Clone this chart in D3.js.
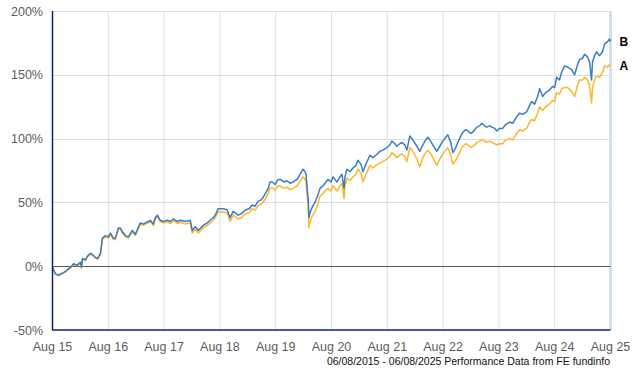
<!DOCTYPE html>
<meta charset="utf-8">
<head>
  <style>
    body { margin: 0; background: #fff; }
    svg text { font-family: "Liberation Sans", Arial, sans-serif; }
  </style>
  <script src="https://cdn.jsdelivr.net/npm/d3@7"></script>
</head>
<body>
<script>
  // years since 06/08/2015
  const yrs = [0, .054, .107, .143, .197, .233, .286, .322, .376, .411, .447, .501, .519, .537, .590, .626, .680, .716, .769, .805,
    .859, .894, .948, 1.002, 1.038, 1.091, 1.127, 1.181, 1.216, 1.252, 1.306, 1.360, 1.431, 1.485, 1.574, 1.628, 1.664, 1.717, 1.753, 1.807,
    1.843, 1.878, 1.932, 1.986, 2.057, 2.111, 2.165, 2.236, 2.290, 2.379, 2.469, 2.504, 2.558, 2.612, 2.701, 2.773, 2.826, 2.880, 2.916, 2.970,
    3.059, 3.131, 3.184, 3.238, 3.327, 3.381, 3.453, 3.524, 3.578, 3.631, 3.685, 3.739, 3.775, 3.828, 3.864, 3.900, 3.936, 3.989, 4.043, 4.079,
    4.150, 4.204, 4.258, 4.311, 4.383, 4.436, 4.490, 4.526, 4.544, 4.562, 4.580, 4.597, 4.615, 4.651, 4.705, 4.758, 4.794, 4.848, 4.884, 4.937,
    4.991, 5.027, 5.098, 5.152, 5.188, 5.224, 5.242, 5.277, 5.331, 5.385, 5.438, 5.474, 5.528, 5.564, 5.617, 5.689, 5.743, 5.796, 5.868, 5.921,
    5.993, 6.047, 6.082, 6.136, 6.172, 6.225, 6.261, 6.315, 6.351, 6.404, 6.458, 6.530, 6.583, 6.637, 6.673, 6.726, 6.762, 6.816, 6.887, 6.941,
    6.995, 7.048, 7.084, 7.138, 7.174, 7.227, 7.263, 7.317, 7.352, 7.406, 7.442, 7.496, 7.531, 7.567, 7.603, 7.656, 7.692, 7.746, 7.782, 7.835,
    7.871, 7.925, 7.961, 8.014, 8.068, 8.121, 8.193, 8.247, 8.318, 8.372, 8.425, 8.497, 8.551, 8.587, 8.640, 8.694, 8.730, 8.784, 8.837, 8.873,
    8.927, 8.962, 8.998, 9.034, 9.088, 9.123, 9.177, 9.231, 9.302, 9.356, 9.410, 9.445, 9.499, 9.535, 9.589, 9.624, 9.660, 9.678, 9.714, 9.750,
    9.803, 9.857, 9.893, 9.946, 9.982, 10.000];

  const seriesB = [-1, -6, -7, -6, -5, -4, -2, -1, 2, 1, 1, 3, -1, 6, 5, 8, 10, 9, 7, 6,
    10, 22, 24, 23, 26, 22, 22, 30, 30, 27, 24, 23, 28, 25, 34, 33, 34, 35, 36, 33,
    38, 40, 36, 35, 36, 35, 37, 35, 36, 35, 36, 28, 31, 28, 32, 34, 36, 38, 40, 45,
    45, 44, 38, 43, 40, 41, 44, 45, 48, 47, 51, 52, 54, 58, 61, 66, 66, 64, 68, 68,
    66, 67, 65, 66, 68, 72, 76, 74, 72, 62, 54, 38, 42, 46, 50, 56, 61, 63, 65, 68,
    66, 70, 66, 70, 72, 61, 70, 76, 74, 77, 79, 83, 80, 74, 80, 87, 85, 87, 90, 91,
    93, 95, 98, 96, 94, 96, 97, 95, 91, 102, 99, 94, 90, 95, 98, 101, 99, 95, 90, 94,
    98, 101, 103, 97, 89, 93, 97, 102, 105, 107, 106, 104, 105, 107, 109, 110, 112, 110, 109, 110,
    109, 108, 106, 108, 108, 111, 113, 112, 117, 120, 119, 121, 126, 129, 127, 133, 139, 133, 136, 137,
    139, 141, 140, 148, 146, 152, 157, 156, 154, 150, 158, 162, 163, 166, 164, 160, 146, 160, 165, 168,
    165, 168, 174, 176, 178, 176];

  const seriesA = [-1, -6, -7.5, -6.5, -5.5, -4.5, -2.5, -1.5, 1.5, .5, .5, 2.5, -1.5, 5.5, 4.5, 7.5, 9.5, 8.5, 6.5, 5.5,
    9, 21, 23, 22, 25, 21, 21, 29, 29, 26, 23, 22, 27, 24, 33, 32, 33, 34, 35, 32,
    37, 39, 35, 34, 34.5, 33.5, 35.5, 33.5, 34.5, 33, 34, 26, 29, 26, 30, 32, 34, 36, 38, 42.5,
    42.5, 41.5, 35, 40, 37, 38, 41, 42, 45, 44, 47.5, 48.5, 50, 54, 57, 61.5, 61.5, 59.5, 63, 63,
    61, 62, 60, 61, 63, 66.5, 70, 68, 66, 56, 48, 30, 35, 39, 43, 49, 55, 57, 59, 61,
    59, 63, 59, 63, 65, 53, 63, 69, 67, 70, 72, 76, 73, 66, 72, 79, 77, 79, 81, 82,
    84, 86, 89, 87, 85, 87, 88, 86, 82, 93, 90, 84, 78, 85, 88, 91, 89, 85, 79, 84,
    88, 91, 93, 87, 80, 83, 86, 91, 94, 96, 95, 93, 94, 95, 97, 98, 99, 98, 97, 98,
    97, 96, 95, 96, 96, 99, 100, 99, 104, 107, 106, 108, 113, 115, 114, 120, 125, 122, 125, 126,
    128, 130, 129, 136, 135, 139, 140, 140, 137, 133, 142, 146, 146, 148, 146, 142, 128, 140, 146, 149,
    148, 152, 157, 156, 158, 157];

  const yTicks = [-50, 0, 50, 100, 150, 200];
  const xTicks = [0, 1, 2, 3, 4, 5, 6, 7, 8, 9, 10];
  const xTickLabels = ["Aug 15", "Aug 16", "Aug 17", "Aug 18", "Aug 19", "Aug 20", "Aug 21", "Aug 22", "Aug 23", "Aug 24", "Aug 25"];
  const seriesNames = ["A", "B"];
  const footer = "06/08/2015 - 06/08/2025 Performance Data from FE fundinfo";

  const W = 640, H = 370;
  const pLeft = 52.5, pRight = 610.5, pTop = 11, pBottom = 330;

  const svg = d3.select("body").append("svg")
    .attr("width", W)
    .attr("height", H);

  const x = d3.scaleLinear().domain([0, 10]).range([pLeft, pRight]);
  const y = d3.scaleLinear().domain([-50, 200]).range([pBottom, pTop]);

  // grid
  svg.append("g")
    .selectAll("line").data(yTicks.filter(d => d !== 0 && d !== -50)).enter().append("line")
      .attr("x1", pLeft).attr("x2", pRight)
      .attr("y1", d => Math.round(y(d)) + 0.5).attr("y2", d => Math.round(y(d)) + 0.5)
      .attr("stroke", "#d4e0ea");
  svg.append("g")
    .selectAll("line").data(xTicks.slice(1)).enter().append("line")
      .attr("x1", d => x(d)).attr("x2", d => x(d))
      .attr("y1", pTop).attr("y2", pBottom)
      .attr("stroke", "#d4e0ea")
      .attr("stroke-width", (d, i) => i === xTicks.length - 2 ? 3 : 1);

  // zero line
  svg.append("line")
    .attr("x1", pLeft).attr("x2", pRight)
    .attr("y1", Math.round(y(0)) + 0.5).attr("y2", Math.round(y(0)) + 0.5)
    .attr("stroke", "#5a5a5a");

  // lines
  const line = d3.line()
    .x((d, i) => x(yrs[i]))
    .y(d => y(d));

  svg.append("path")
    .attr("d", line(seriesA))
    .attr("fill", "none")
    .attr("stroke", "#fdb52a")
    .attr("stroke-width", 1.5)
    .attr("stroke-linejoin", "round");

  svg.append("path")
    .attr("d", line(seriesB))
    .attr("fill", "none")
    .attr("stroke", "#3a7cc2")
    .attr("stroke-width", 1.5)
    .attr("stroke-linejoin", "round");

  // axes
  svg.append("line")
    .attr("x1", pLeft).attr("x2", pLeft)
    .attr("y1", pTop).attr("y2", pBottom + 0.5)
    .attr("stroke", "#0d2270").attr("stroke-width", 1.5);
  svg.append("line")
    .attr("x1", pLeft).attr("x2", pRight)
    .attr("y1", pBottom).attr("y2", pBottom)
    .attr("stroke", "#0d2270").attr("stroke-width", 1.5);

  // tick labels
  svg.append("g")
    .selectAll("text").data(yTicks).enter().append("text")
      .attr("x", 43)
      .attr("y", d => y(d) + 4.5)
      .attr("text-anchor", "end")
      .attr("font-size", 12.5)
      .attr("fill", "#5c5c5c")
      .text(d => d + "%");

  svg.append("g")
    .selectAll("text").data(xTicks).enter().append("text")
      .attr("x", d => x(d))
      .attr("y", 351)
      .attr("text-anchor", "middle")
      .attr("font-size", 12.5)
      .attr("fill", "#5c5c5c")
      .text((d, i) => xTickLabels[i]);

  // end labels
  const lastVals = [seriesA[seriesA.length - 1], seriesB[seriesB.length - 1]];
  svg.append("g")
    .selectAll("text").data(seriesNames).enter().append("text")
      .attr("x", pRight + 9)
      .attr("y", (d, i) => y(lastVals[i]) + 4.5)
      .attr("font-size", 12)
      .attr("font-weight", "bold")
      .attr("fill", "#000")
      .text(d => d);

  svg.append("text")
    .attr("x", 610)
    .attr("y", 365)
    .attr("text-anchor", "end")
    .attr("font-size", 10.5)
    .attr("fill", "#111")
    .text(footer);
</script>
</body>
</html>
